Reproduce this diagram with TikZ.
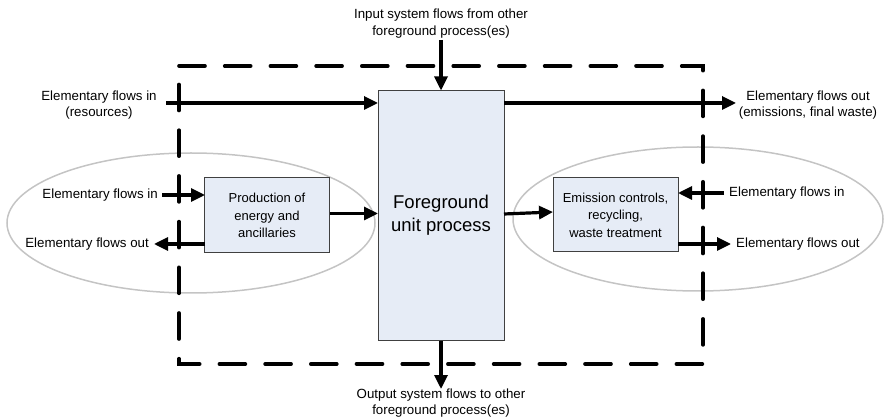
\documentclass[tikz,border=0pt]{standalone}
\usepackage{fontspec}
\setmainfont{Liberation Sans}
\usetikzlibrary{arrows.meta}
\definecolor{boxfill}{HTML}{E6ECF6}
\definecolor{boxline}{HTML}{404040}
\definecolor{ellgray}{HTML}{C4C4C4}
\begin{document}
\begin{tikzpicture}[x=1pt,y=-1pt,
  lbl/.style={font=\fontsize{13.3}{16.5}\selectfont, align=center, inner sep=0pt},
  procbox/.style={draw=boxline, fill=boxfill, line width=1pt, inner sep=0pt, align=center,
     font=\fontsize{13}{17.5}\selectfont},
  flow/.style={line width=3.2pt, -{Triangle[length=14pt,width=13pt]}},
  sysbound/.style={line width=3.6pt, dash pattern=on 26pt off 19.7pt, line cap=round},
  subsys/.style={draw=ellgray, line width=1.5pt}]
\useasboundingbox (0,0) rectangle (885,419);
% ellipses
\draw[subsys] (191,223) ellipse [x radius=184, y radius=70];
\draw[subsys] (698,219) ellipse [x radius=185, y radius=72];
% system boundary
\draw[sysbound] (179,66) -- (703,66) -- (703,364) -- (179,364) -- cycle;
% boxes
\node[procbox, minimum width=126pt, minimum height=249pt, font=\fontsize{18.5}{23}\selectfont]
  (fg) at (441,215.5) {Foreground\\unit process};
\node[procbox, minimum width=125pt, minimum height=75pt] (prod) at (267,215.5)
  {Production of\\energy and\\ancillaries};
\node[procbox, minimum width=125pt, minimum height=74pt] (emis) at (615.5,215)
  {Emission controls,\\recycling,\\waste treatment};
% labels
\node[lbl] (top) at (441,23.5) {Input system flows from other\\foreground process(es)};
\node[lbl] (bot) at (441,403) {Output system flows to other\\foreground process(es)};
\node[lbl] (resin) at (99,105) {Elementary flows in\\(resources)};
\node[lbl] (emout) at (808,105) {Elementary flows out\\(emissions, final waste)};
\node[lbl, anchor=east] (lin) at (158,195) {Elementary flows in};
\node[lbl, anchor=east] (lout) at (149,244) {Elementary flows out};
\node[lbl, anchor=west] (rin) at (729,193) {Elementary flows in};
\node[lbl, anchor=west] (rout) at (736,244) {Elementary flows out};
% coordinates
\coordinate (ta) at (441,40);
\coordinate (ba) at (441,389);
\coordinate (ra) at (166,103);
\coordinate (rb) at (378,103);
\coordinate (ea) at (504,103);
\coordinate (eb) at (736,103);
\coordinate (la) at (162,195);
\coordinate (lb) at (205,195);
\coordinate (lc) at (205,244);
\coordinate (ld) at (154,244);
\coordinate (pa) at (330,213.5);
\coordinate (pb) at (378,213.5);
\coordinate (fa) at (504,214);
\coordinate (fb) at (553,212);
\coordinate (ma) at (724,193);
\coordinate (mb) at (678,193);
\coordinate (na) at (678,244);
\coordinate (nb) at (731,244);
% flows
\draw[flow] (ta) -- (ta |- fg.north);
\draw[flow] (ba |- fg.south) -- (ba);
\draw[flow] (ra) -- (rb);
\draw[flow] (ea) -- (eb);
\draw[flow] (la) -- (lb);
\draw[flow] (lc) -- (ld);
\draw[flow] (pa) -- (pb);
\draw[flow] (fa) -- (fb);
\draw[flow] (ma) -- (mb);
\draw[flow] (na) -- (nb);
\end{tikzpicture}
\end{document}
